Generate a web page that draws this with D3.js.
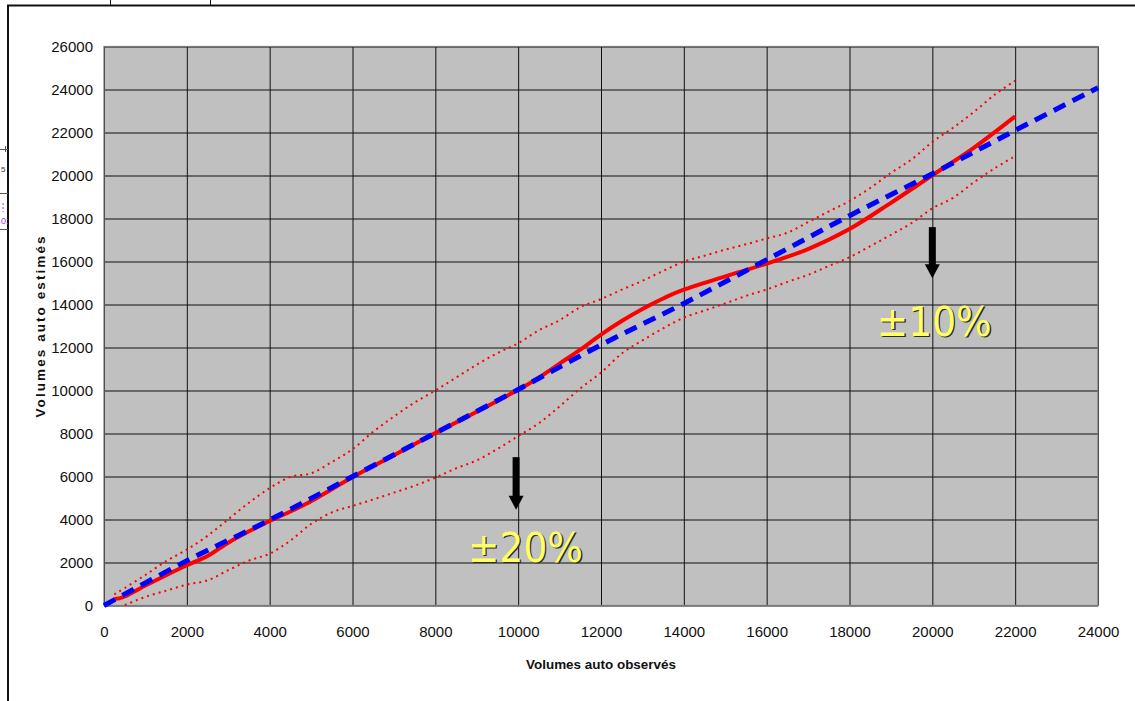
<!DOCTYPE html>
<html>
<head>
<meta charset="utf-8">
<script src="https://cdn.jsdelivr.net/npm/d3@7"></script>
<style>
    body { margin: 0; background: white; }
    svg { display: block; font-family: "Liberation Sans", Arial, sans-serif; }
</style>
</head>
<body>
<div id="chart"></div>
<script>
const width = 1135;
const height = 701;

// tick values of both axes
const xTicks = [0, 2000, 4000, 6000, 8000, 10000, 12000, 14000, 16000, 18000, 20000, 22000, 24000];
const yTicks = [0, 2000, 4000, 6000, 8000, 10000, 12000, 14000, 16000, 18000, 20000, 22000, 24000, 26000];

// volumes estimés (red solid line)
const estObs = [250, 500, 1000, 1500, 2000, 2500, 3000, 3500, 4000, 4500, 5000, 5500, 6000, 7000, 8000, 9000, 10000, 10500, 11000, 11500, 12000, 12500, 13000, 13500, 14000, 15000, 16000, 17000, 18000, 19000, 20000, 21000, 22000];
const estVal = [300, 420, 930, 1410, 1870, 2300, 2920, 3450, 3930, 4370, 4850, 5410, 5970, 6990, 8020, 9010, 10030, 10600, 11250, 11900, 12600, 13230, 13790, 14280, 14690, 15310, 15900, 16580, 17510, 18730, 20010, 21290, 22750];

// reference line (blue dashed)
const refObs = [0, 2000, 4000, 6000, 8000, 10000, 12000, 14000, 16000, 18000, 20000, 22000, 24000];
const refVal = [0, 2080, 3980, 6000, 8020, 10050, 12120, 14050, 16080, 18130, 20080, 22100, 24080];

// upper and lower bounds (red dotted)
const upObs = [250, 500, 1000, 1500, 2000, 2500, 3000, 3500, 4000, 4500, 5000, 5500, 6000, 6500, 7000, 7500, 8000, 8500, 9000, 9500, 10000, 10500, 11000, 11500, 12000, 12500, 13000, 13500, 14000, 14500, 15000, 15500, 16000, 16500, 17000, 17500, 18000, 18500, 19000, 19500, 20000, 20500, 21000, 21500, 22000];
const upVal = [520, 810, 1420, 2060, 2600, 3240, 4010, 4780, 5460, 5980, 6150, 6670, 7270, 8080, 8790, 9440, 10000, 10600, 11200, 11740, 12200, 12800, 13270, 13880, 14250, 14690, 15100, 15560, 15990, 16270, 16550, 16800, 17070, 17340, 17830, 18330, 18810, 19420, 20120, 20750, 21560, 22220, 22950, 23750, 24410];
const lowObs = [500, 600, 1000, 1500, 2000, 2500, 3000, 3500, 4000, 4500, 5000, 5500, 6000, 6500, 7000, 7500, 8000, 8500, 9000, 9500, 10000, 10500, 11000, 11500, 12000, 12500, 13000, 13500, 14000, 14500, 15000, 15500, 16000, 16500, 17000, 17500, 18000, 18500, 19000, 19500, 20000, 20500, 21000, 21500, 22000];
const lowVal = [30, 100, 400, 690, 970, 1170, 1640, 2090, 2410, 3020, 3790, 4330, 4630, 4930, 5250, 5570, 5950, 6380, 6750, 7280, 7880, 8480, 9260, 10100, 10830, 11720, 12330, 12890, 13390, 13720, 14050, 14400, 14700, 15050, 15380, 15790, 16200, 16710, 17240, 17790, 18470, 18960, 19680, 20330, 20900];

// annotations: label, arrow position (observed), arrow top / tip (estimated)
const notes = [
    { label: "\u00b120%", ax: 9950, top: 6900, tip: 4450, tx: 8790, ty: 2020 },
    { label: "\u00b110%", ax: 20000, top: 17600, tip: 15220, tx: 18660, ty: 12530 }
];

const margin = { left: 104, right: 1098, top: 46.5, bottom: 605.5 };

const x = d3.scaleLinear().domain([0, 24000]).range([margin.left, margin.right]);
const y = d3.scaleLinear().domain([0, 26000]).range([margin.bottom, margin.top]);

const svg = d3.select("#chart").append("svg")
    .attr("width", width)
    .attr("height", height);

// spreadsheet frame around the chart
const frame = svg.append("g").attr("stroke", "#111").attr("fill", "none");
frame.append("path").attr("d", "M8,701 V5.5 H1135").attr("stroke-width", 2);
frame.append("path").attr("d", "M110.5,0 V5 M210.5,0 V5").attr("stroke-width", 1);
frame.append("path").attr("d", "M0,149.5 H8 M5.5,146 V152 M0,193.5 H8 M0,229.5 H8").attr("stroke-width", 1).attr("stroke", "#555");
svg.append("text").attr("x", 1).attr("y", 172).attr("font-size", 8).attr("fill", "#333").text("5");
svg.append("text").attr("x", 1).attr("y", 224).attr("font-size", 9).attr("fill", "#a040e0").text("0:");
svg.append("path").attr("d", "M3,203 V212").attr("stroke", "#a040e0").attr("stroke-dasharray", "2,2");

// plot area
svg.append("rect")
    .attr("x", margin.left)
    .attr("y", margin.top)
    .attr("width", margin.right - margin.left)
    .attr("height", margin.bottom - margin.top)
    .attr("fill", "#c0c0c0");

const xAxis = svg.append("g")
    .attr("transform", `translate(0,${margin.bottom})`)
    .call(d3.axisBottom(x).tickValues(xTicks).tickFormat(d3.format("d"))
        .tickSize(-(margin.bottom - margin.top)).tickSizeOuter(0).tickPadding(21));

const yAxis = svg.append("g")
    .attr("transform", `translate(${margin.left},0)`)
    .call(d3.axisLeft(y).tickValues(yTicks).tickFormat(d3.format("d"))
        .tickSize(-(margin.right - margin.left)).tickSizeOuter(0).tickPadding(11));

[xAxis, yAxis].forEach(ax => {
    ax.select(".domain").remove();
    ax.selectAll(".tick line").attr("stroke", "#111").attr("stroke-width", 1);
    ax.selectAll(".tick text")
        .attr("fill", "#111")
        .style("font-size", "15px")
        .style("font-family", "'Liberation Sans', Arial, sans-serif");
});

svg.append("rect")
    .attr("x", margin.left)
    .attr("y", margin.top)
    .attr("width", margin.right - margin.left)
    .attr("height", margin.bottom - margin.top)
    .attr("fill", "none")
    .attr("stroke", "#7a7a7a")
    .attr("stroke-width", 1.2);

// axis titles
svg.append("text")
    .attr("x", 601)
    .attr("y", 669)
    .attr("text-anchor", "middle")
    .attr("font-size", 13.5)
    .attr("font-weight", "bold")
    .attr("textLength", 150)
    .attr("lengthAdjust", "spacingAndGlyphs")
    .attr("fill", "#111")
    .text("Volumes auto observés");

svg.append("text")
    .attr("transform", "translate(45,327) rotate(-90)")
    .attr("text-anchor", "middle")
    .attr("font-size", 13.5)
    .attr("font-weight", "bold")
    .attr("textLength", 181)
    .attr("lengthAdjust", "spacing")
    .attr("fill", "#111")
    .text("Volumes auto estimés");

// series
const line = d3.line()
    .x(d => x(d[0]))
    .y(d => y(d[1]))
    .curve(d3.curveCardinal.tension(0));

const series = [
    { obs: upObs, val: upVal, stroke: "#ff0000", width: 2, dash: "2,4" },
    { obs: lowObs, val: lowVal, stroke: "#ff0000", width: 2, dash: "2,4" },
    { obs: estObs, val: estVal, stroke: "#ff0000", width: 4, dash: null },
    { obs: refObs, val: refVal, stroke: "#0000ff", width: 5, dash: "13,8" }
];

svg.append("g")
    .attr("fill", "none")
    .selectAll("path")
    .data(series)
    .join("path")
    .attr("d", s => line(s.obs.map((o, i) => [o, s.val[i]])))
    .attr("stroke", s => s.stroke)
    .attr("stroke-width", s => s.width)
    .attr("stroke-dasharray", s => s.dash)
    .attr("stroke-linejoin", "round");

// arrows and percentage labels
const note = svg.append("g")
    .selectAll("g")
    .data(notes)
    .join("g");

note.append("rect")
    .attr("x", d => x(d.ax) - 3.5)
    .attr("y", d => y(d.top))
    .attr("width", 7)
    .attr("height", d => y(d.tip) - y(d.top) - 13);

note.append("path")
    .attr("d", d => `M${x(d.ax) - 7.5},${y(d.tip) - 14} H${x(d.ax) + 7.5} L${x(d.ax)},${y(d.tip)} Z`)
    .attr("fill", "#000");

note.append("text")
    .attr("x", d => x(d.tx) + 1.3)
    .attr("y", d => y(d.ty) + 1.3)
    .attr("font-family", "'DejaVu Sans', sans-serif")
    .attr("font-size", 40)
    .attr("textLength", 115)
    .attr("lengthAdjust", "spacingAndGlyphs")
    .attr("fill", "#2a2a2a")
    .text(d => d.label);

note.append("text")
    .attr("x", d => x(d.tx))
    .attr("y", d => y(d.ty))
    .attr("font-family", "'DejaVu Sans', sans-serif")
    .attr("font-size", 40)
    .attr("textLength", 115)
    .attr("lengthAdjust", "spacingAndGlyphs")
    .attr("fill", "#ffff66")
    .text(d => d.label);
</script>
</body>
</html>
